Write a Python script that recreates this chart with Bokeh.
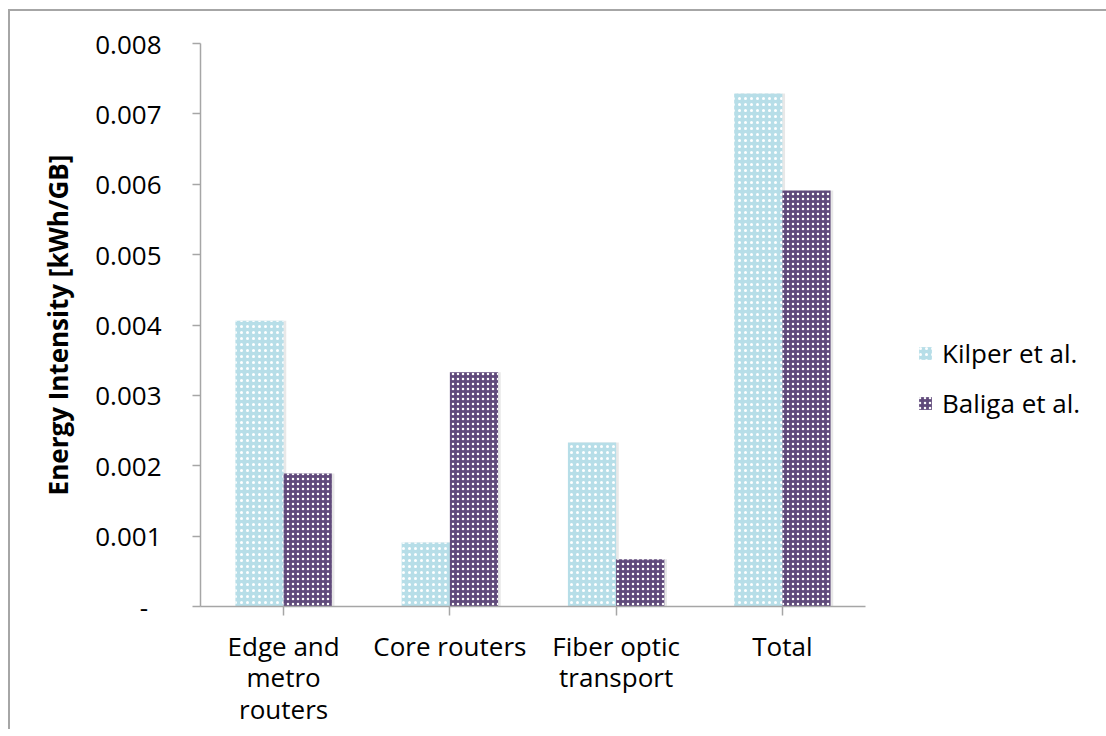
from bokeh.plotting import figure
from bokeh.models import FactorRange, Legend, LegendItem, ColumnDataSource, FixedTicker
from bokeh.transform import dodge
from bokeh.embed import file_html
from bokeh.resources import INLINE

categories = ["Edge and\nmetro\nrouters", "Core routers", "Fiber optic\ntransport", "Total"]
kilper = [0.00406, 0.00091, 0.00233, 0.00729]
baliga = [0.00189, 0.00333, 0.00067, 0.00591]
y_ticks = [0, 0.001, 0.002, 0.003, 0.004, 0.005, 0.006, 0.007, 0.008]
y_tick_labels = ["-\u00a0\u00a0", "0.001", "0.002", "0.003", "0.004", "0.005", "0.006", "0.007", "0.008"]
series_names = ["Kilper et al.", "Baliga et al."]

FONT = "Open Sans"
AXIS_GRAY = "#a6a6a6"
TICK_FS = "26px"

src = ColumnDataSource(dict(cat=categories, kilper=kilper, baliga=baliga))

p = figure(x_range=FactorRange(factors=categories, range_padding=0),
           y_range=(0, 0.008),
           frame_width=665, frame_height=563,
           min_border_left=190, min_border_top=32, min_border_right=230, min_border_bottom=121,
           output_backend="svg", toolbar_location=None, tools="")
p.styles = {"border-top": "2px solid #a6a6a6", "border-left": "2px solid #a6a6a6",
            "margin-left": "8px", "margin-top": "9px"}

p.xgrid.visible = False
p.ygrid.visible = False
p.outline_line_color = None

bw = 0.29
# soft shadows
p.vbar(x=dodge("cat", -bw / 2 + 0.016, range=p.x_range), top="kilper", width=bw, source=src,
       fill_color="#cccccc", fill_alpha=0.45, line_color=None)
p.vbar(x=dodge("cat", bw / 2 + 0.016, range=p.x_range), top="baliga", width=bw, source=src,
       fill_color="#cccccc", fill_alpha=0.45, line_color=None)

rk = p.vbar(x=dodge("cat", -bw / 2, range=p.x_range), top="kilper", width=bw, source=src,
            fill_color="#b7dee8", line_color=None,
            hatch_pattern="dot", hatch_color="white", hatch_scale=6, hatch_weight=3)
rb = p.vbar(x=dodge("cat", bw / 2, range=p.x_range), top="baliga", width=bw, source=src,
            fill_color="#604a7b", line_color=None,
            hatch_pattern="dot", hatch_color="white", hatch_scale=5, hatch_weight=3)

# y axis
ya = p.yaxis[0]
ya.ticker = FixedTicker(ticks=y_ticks)
ya.major_label_overrides = {t: l for t, l in zip(y_ticks, y_tick_labels)}
ya.axis_label = "Energy Intensity [kWh/GB]"
ya.axis_label_text_font = FONT
ya.axis_label_text_font_style = "bold"
ya.axis_label_text_font_size = "26px"
ya.axis_label_text_color = "black"
ya.axis_label_standoff = 16
ya.major_label_text_font = FONT
ya.major_label_text_font_size = TICK_FS
ya.major_label_text_color = "black"
ya.major_label_standoff = 31
ya.axis_line_color = AXIS_GRAY
ya.axis_line_width = 1.5
ya.major_tick_line_color = AXIS_GRAY
ya.major_tick_line_width = 1.5
ya.major_tick_in = 0
ya.major_tick_out = 8
ya.minor_tick_line_color = None

xa = p.xaxis[0]
xa.major_label_text_font = FONT
xa.major_label_text_font_size = TICK_FS
xa.major_label_text_color = "black"
xa.major_label_text_line_height = 0.875
xa.major_label_standoff = 12
xa.axis_line_color = AXIS_GRAY
xa.axis_line_width = 1.5
xa.major_tick_line_color = AXIS_GRAY
xa.major_tick_line_width = 1.5
xa.major_tick_in = 0
xa.major_tick_out = 9
xa.minor_tick_line_color = None
xa.group_text_font_size = "0px"

legend = Legend(items=[LegendItem(label=series_names[0], renderers=[rk]),
                       LegendItem(label=series_names[1], renderers=[rb])],
                location=(52, 185), orientation="vertical",
                label_text_font=FONT, label_text_font_size=TICK_FS, label_text_color="black",
                glyph_width=16, glyph_height=16, label_standoff=9, label_height=20,
                spacing=14, padding=0, margin=0,
                border_line_color=None, background_fill_alpha=0)
p.add_layout(legend, "right")

open("out.html", "w").write(file_html(p, INLINE))
